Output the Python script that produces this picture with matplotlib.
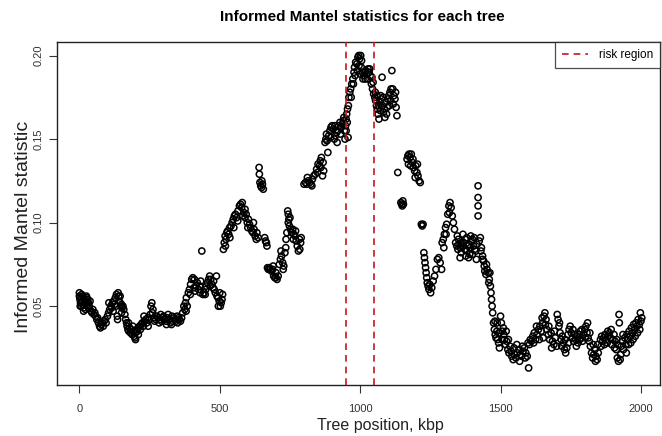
import matplotlib
matplotlib.use("Agg")
import matplotlib.pyplot as plt
import numpy as np

# (tree position in kbp, informed Mantel statistic)
pts_0_250 = [
    (0, 0.056), (0, 0.058), (2, 0.054), (4, 0.052), (6, 0.055), (8, 0.050), (10, 0.053),
    (12, 0.056), (14, 0.051), (16, 0.049), (18, 0.054), (20, 0.052), (22, 0.048), (24, 0.053),
    (26, 0.055), (28, 0.051), (30, 0.054), (32, 0.052), (35, 0.050), (38, 0.053),
    (42, 0.047), (45, 0.046), (48, 0.048), (52, 0.045), (55, 0.046), (58, 0.044), (62, 0.042),
    (65, 0.043), (68, 0.040), (72, 0.038), (75, 0.037), (78, 0.039), (82, 0.040), (85, 0.038),
    (88, 0.041), (92, 0.042), (95, 0.040),
    (100, 0.044), (104, 0.046), (108, 0.048), (112, 0.050), (115, 0.049), (118, 0.052),
    (122, 0.053), (125, 0.051), (128, 0.055), (132, 0.057), (135, 0.044), (136, 0.042),
    (138, 0.058), (140, 0.056), (142, 0.053), (145, 0.052), (148, 0.050), (150, 0.051),
    (152, 0.049), (155, 0.050), (158, 0.048),
    (162, 0.045), (165, 0.042), (168, 0.040), (170, 0.038), (173, 0.036), (176, 0.035),
    (179, 0.037), (182, 0.034), (185, 0.036), (188, 0.033), (192, 0.035), (195, 0.032),
    (198, 0.031), (200, 0.034), (204, 0.036), (207, 0.035), (210, 0.037), (214, 0.038),
    (217, 0.036), (220, 0.039), (224, 0.040), (228, 0.038), (232, 0.041), (236, 0.042),
    (240, 0.040), (244, 0.043), (248, 0.042),
]

pts_250_500 = [
    (252, 0.045), (255, 0.050), (258, 0.052), (262, 0.048), (265, 0.043), (268, 0.041),
    (272, 0.042), (276, 0.044), (280, 0.043), (284, 0.040), (288, 0.042), (292, 0.041),
    (296, 0.043), (300, 0.044), (304, 0.042), (308, 0.041), (312, 0.043), (316, 0.045),
    (320, 0.042), (324, 0.040), (328, 0.039), (332, 0.041), (336, 0.043), (340, 0.042),
    (344, 0.041), (348, 0.044), (352, 0.043), (356, 0.042), (360, 0.041), (364, 0.043),
    (368, 0.046), (372, 0.050), (375, 0.048), (378, 0.052), (381, 0.055), (384, 0.050),
    (388, 0.058), (392, 0.060), (396, 0.063), (400, 0.066), (404, 0.067), (408, 0.061),
    (412, 0.059), (416, 0.062), (420, 0.064), (424, 0.060), (428, 0.062), (432, 0.065),
    (436, 0.083), (440, 0.057), (444, 0.058), (448, 0.057), (452, 0.062), (456, 0.064),
    (460, 0.066), (464, 0.068), (468, 0.066), (472, 0.063), (476, 0.061), (480, 0.060),
    (484, 0.058), (488, 0.068), (490, 0.056), (494, 0.055), (498, 0.053),
]

pts_500_750 = [
    (502, 0.050), (505, 0.052), (508, 0.054), (510, 0.057),
    (513, 0.084), (516, 0.088), (519, 0.092), (522, 0.090), (525, 0.094), (528, 0.095),
    (532, 0.093), (536, 0.091), (540, 0.098), (544, 0.100), (548, 0.102), (552, 0.104),
    (556, 0.105), (560, 0.103), (564, 0.101),
    (570, 0.110), (574, 0.111), (578, 0.109), (582, 0.104), (586, 0.106), (590, 0.103),
    (594, 0.105), (598, 0.100), (602, 0.102), (606, 0.099), (610, 0.097), (614, 0.095),
    (618, 0.094), (622, 0.096), (626, 0.092), (630, 0.090),
    (640, 0.133), (641, 0.129), (643, 0.124), (646, 0.122), (649, 0.121), (652, 0.123),
    (655, 0.120), (660, 0.091), (663, 0.089), (666, 0.088),
    (670, 0.073), (673, 0.072), (676, 0.073), (680, 0.072), (684, 0.071), (688, 0.072),
    (692, 0.068), (696, 0.067), (700, 0.067), (704, 0.066), (708, 0.068), (712, 0.075),
    (716, 0.078), (720, 0.080), (724, 0.076), (728, 0.074), (732, 0.082),
    (736, 0.090), (739, 0.094), (742, 0.107), (744, 0.105), (746, 0.102), (748, 0.098),
]

pts_750_1000 = [
    (752, 0.096), (756, 0.094), (760, 0.096), (764, 0.093), (768, 0.092), (772, 0.089),
    (776, 0.086), (780, 0.083), (784, 0.090), (788, 0.088),
    (800, 0.123), (805, 0.124), (810, 0.123), (815, 0.125), (820, 0.124), (825, 0.123),
    (830, 0.126), (835, 0.128), (840, 0.129), (845, 0.132), (850, 0.135), (855, 0.134),
    (858, 0.137), (862, 0.139), (866, 0.128), (870, 0.131),
    (875, 0.148), (878, 0.150), (882, 0.149), (885, 0.142), (888, 0.152), (892, 0.155),
    (896, 0.157), (900, 0.158), (904, 0.156), (908, 0.150), (912, 0.152), (916, 0.154),
    (920, 0.155), (924, 0.158), (928, 0.160), (932, 0.157), (936, 0.159), (940, 0.161),
    (944, 0.155), (946, 0.150), (948, 0.158), (950, 0.162), (952, 0.165), (955, 0.168),
    (958, 0.170), (960, 0.175), (963, 0.178), (966, 0.180), (970, 0.183), (974, 0.186),
    (978, 0.190), (980, 0.193), (984, 0.196), (988, 0.195), (992, 0.199), (995, 0.200),
    (998, 0.198),
]

pts_1000_1250 = [
    (1000, 0.189), (1002, 0.200), (1005, 0.197), (1008, 0.190), (1012, 0.188), (1016, 0.190),
    (1020, 0.191), (1024, 0.189), (1028, 0.192), (1032, 0.190), (1036, 0.188), (1040, 0.183),
    (1044, 0.180), (1048, 0.177), (1052, 0.175), (1055, 0.173), (1058, 0.170), (1061, 0.168),
    (1064, 0.165), (1067, 0.162), (1070, 0.172), (1073, 0.176), (1076, 0.174), (1078, 0.187),
    (1080, 0.170), (1083, 0.166), (1086, 0.168), (1090, 0.172), (1094, 0.165), (1098, 0.174),
    (1102, 0.176), (1106, 0.178), (1110, 0.180), (1113, 0.191), (1116, 0.180), (1120, 0.176),
    (1124, 0.174), (1128, 0.169), (1131, 0.164),
    (1134, 0.130), (1145, 0.112), (1148, 0.111), (1150, 0.110), (1152, 0.113), (1154, 0.111),
    (1167, 0.138), (1170, 0.140), (1174, 0.141), (1178, 0.139), (1182, 0.141), (1186, 0.136),
    (1190, 0.133), (1194, 0.131), (1198, 0.134), (1202, 0.130), (1206, 0.128), (1210, 0.125),
    (1214, 0.124), (1218, 0.099), (1221, 0.098), (1224, 0.099),
    (1227, 0.082), (1229, 0.079), (1231, 0.076), (1233, 0.073), (1235, 0.070), (1237, 0.067),
    (1239, 0.064), (1242, 0.062), (1245, 0.060), (1248, 0.063),
]

pts_1250_1500 = [
    (1251, 0.058), (1255, 0.061), (1260, 0.065), (1265, 0.068), (1270, 0.072), (1275, 0.078),
    (1280, 0.079), (1285, 0.076), (1290, 0.072), (1292, 0.088), (1296, 0.090), (1300, 0.093),
    (1304, 0.097), (1308, 0.099), (1312, 0.105), (1316, 0.110), (1320, 0.112), (1324, 0.109),
    (1328, 0.104), (1332, 0.100), (1336, 0.096), (1340, 0.088), (1344, 0.086), (1348, 0.084),
    (1350, 0.090), (1352, 0.087), (1356, 0.085), (1360, 0.082), (1360, 0.088), (1364, 0.086),
    (1368, 0.088), (1372, 0.084), (1376, 0.080), (1380, 0.083), (1380, 0.091), (1384, 0.086),
    (1388, 0.087), (1390, 0.081), (1392, 0.085), (1396, 0.089), (1400, 0.090), (1400, 0.081),
    (1404, 0.086), (1408, 0.084), (1412, 0.083), (1416, 0.087),
    (1420, 0.122), (1420, 0.115), (1420, 0.110), (1420, 0.104),
    (1424, 0.089), (1428, 0.091), (1432, 0.085), (1436, 0.080), (1436, 0.078), (1440, 0.077),
    (1444, 0.071), (1448, 0.069), (1452, 0.072), (1456, 0.070), (1460, 0.066), (1464, 0.062),
    (1466, 0.058), (1468, 0.054), (1470, 0.050), (1472, 0.046), (1475, 0.040), (1478, 0.036),
    (1481, 0.033), (1484, 0.031), (1487, 0.035), (1490, 0.030), (1493, 0.028), (1496, 0.025),
]

pts_1500_1750 = [
    (1500, 0.044), (1503, 0.040), (1506, 0.035), (1510, 0.037), (1514, 0.030), (1518, 0.027),
    (1522, 0.029), (1526, 0.024), (1530, 0.022), (1534, 0.026), (1538, 0.023),
    (1540, 0.020), (1545, 0.018), (1550, 0.021), (1555, 0.019), (1560, 0.022), (1565, 0.024),
    (1570, 0.021), (1575, 0.020), (1580, 0.023), (1585, 0.025), (1590, 0.022), (1595, 0.020),
    (1600, 0.013), (1603, 0.027), (1606, 0.030),
    (1610, 0.029), (1615, 0.032), (1620, 0.034), (1625, 0.030), (1630, 0.033), (1635, 0.036),
    (1640, 0.038), (1645, 0.035), (1650, 0.040), (1655, 0.044), (1658, 0.046), (1660, 0.039),
    (1665, 0.036), (1670, 0.033), (1675, 0.030), (1680, 0.034), (1685, 0.029), (1690, 0.027),
    (1695, 0.031), (1700, 0.026), (1702, 0.045), (1705, 0.042), (1708, 0.038), (1712, 0.034),
    (1716, 0.030), (1720, 0.032), (1724, 0.028), (1728, 0.024), (1732, 0.022), (1736, 0.025),
    (1740, 0.033), (1744, 0.036), (1748, 0.038),
]

pts_1750_2000 = [
    (1752, 0.034), (1756, 0.031), (1760, 0.029), (1764, 0.033), (1768, 0.030), (1772, 0.032),
    (1776, 0.028), (1780, 0.033), (1784, 0.035), (1788, 0.031), (1792, 0.029), (1796, 0.033),
    (1800, 0.036), (1804, 0.038), (1808, 0.034), (1812, 0.031), (1816, 0.029),
    (1820, 0.026), (1824, 0.022), (1828, 0.019), (1832, 0.021), (1836, 0.024), (1840, 0.020),
    (1844, 0.018), (1848, 0.022),
    (1856, 0.030), (1860, 0.032), (1864, 0.029), (1868, 0.031), (1872, 0.033), (1876, 0.030),
    (1880, 0.028), (1884, 0.032), (1888, 0.034), (1892, 0.031), (1896, 0.027), (1900, 0.030),
    (1904, 0.033), (1908, 0.029), (1912, 0.024), (1916, 0.019), (1920, 0.017), (1922, 0.045),
    (1923, 0.040), (1926, 0.018),
    (1930, 0.026), (1934, 0.029), (1938, 0.024), (1942, 0.031), (1946, 0.027), (1950, 0.033),
    (1954, 0.030), (1958, 0.035), (1962, 0.032), (1966, 0.037), (1970, 0.034), (1974, 0.039),
    (1978, 0.036), (1982, 0.040), (1986, 0.038), (1990, 0.042), (1994, 0.039), (1998, 0.046),
    (2000, 0.041), (2003, 0.043),
]

# second layer of trees that sit off the main trend (the scatter inside each cluster)
spread_left = [
    (3, 0.050), (8, 0.057), (15, 0.047), (25, 0.056), (33, 0.049),
    (105, 0.052), (120, 0.047), (130, 0.050), (145, 0.056), (150, 0.046),
    (175, 0.040), (190, 0.038), (200, 0.030), (210, 0.033),
    (230, 0.044), (245, 0.038), (260, 0.046), (290, 0.045), (310, 0.039), (330, 0.044), (350, 0.040),
    (380, 0.047), (395, 0.057), (410, 0.066), (430, 0.058), (450, 0.060), (465, 0.062),
    (478, 0.065), (495, 0.050), (500, 0.058),
    (520, 0.086), (535, 0.097), (550, 0.097), (565, 0.107), (580, 0.112), (590, 0.108),
    (600, 0.097), (620, 0.100), (632, 0.094), (637, 0.091),
    (650, 0.125), (668, 0.086), (690, 0.074), (700, 0.070), (718, 0.083), (726, 0.072), (735, 0.085),
    (744, 0.100), (750, 0.103), (762, 0.090), (770, 0.095), (785, 0.084), (790, 0.091),
    (812, 0.127), (828, 0.122), (848, 0.130), (860, 0.133), (868, 0.136),
    (880, 0.153), (895, 0.151), (910, 0.158), (918, 0.148), (930, 0.153), (942, 0.163),
    (950, 0.155), (954, 0.160), (957, 0.151),
    (968, 0.175), (976, 0.183), (982, 0.188), (990, 0.191), (996, 0.194),
]

spread_right = [
    (1004, 0.193), (1010, 0.186), (1018, 0.186), (1026, 0.186), (1034, 0.192), (1042, 0.187),
    (1046, 0.184), (1054, 0.178), (1060, 0.176), (1066, 0.170), (1072, 0.167), (1082, 0.175),
    (1088, 0.163), (1096, 0.169), (1104, 0.170), (1108, 0.173), (1118, 0.171), (1126, 0.178),
    (1172, 0.135), (1180, 0.134), (1188, 0.138), (1196, 0.127), (1204, 0.135),
    (1298, 0.085), (1306, 0.093), (1318, 0.106),
    (1346, 0.092), (1356, 0.079), (1366, 0.093), (1374, 0.090), (1386, 0.079), (1394, 0.092),
    (1406, 0.091), (1414, 0.078),
    (1430, 0.083), (1442, 0.074), (1450, 0.075), (1458, 0.064), (1462, 0.070),
    (1480, 0.041), (1488, 0.040), (1495, 0.034), (1505, 0.030), (1512, 0.033), (1520, 0.035),
    (1528, 0.030),
    (1548, 0.025), (1558, 0.027), (1568, 0.017), (1578, 0.026), (1588, 0.019), (1598, 0.028),
    (1618, 0.028), (1628, 0.038), (1638, 0.030), (1648, 0.043), (1652, 0.031), (1662, 0.042),
    (1672, 0.038), (1682, 0.025), (1692, 0.035),
    (1710, 0.040), (1718, 0.026), (1730, 0.030), (1742, 0.028), (1758, 0.036), (1770, 0.026),
    (1782, 0.030), (1790, 0.036), (1802, 0.031), (1810, 0.040), (1818, 0.034), (1830, 0.027),
    (1838, 0.017), (1846, 0.027),
    (1858, 0.026), (1870, 0.027), (1882, 0.035), (1894, 0.036), (1906, 0.025), (1914, 0.030),
    (1918, 0.027), (1928, 0.021), (1936, 0.033), (1948, 0.022), (1956, 0.027), (1964, 0.028),
    (1972, 0.030), (1980, 0.032), (1988, 0.034), (1996, 0.036),
]

risk_region = [950, 1050]
x_ticks = [0, 500, 1000, 1500, 2000]
y_ticks = [0.05, 0.10, 0.15, 0.20]
y_tick_labels = ["0.05", "0.10", "0.15", "0.20"]

all_pts = (pts_0_250 + pts_250_500 + pts_500_750 + pts_750_1000 +
           pts_1000_1250 + pts_1250_1500 + pts_1500_1750 + pts_1750_2000 +
           spread_left + spread_right)
tree_pos = np.array([p[0] for p in all_pts])
mantel = np.array([p[1] for p in all_pts])

plt.rcParams['font.family'] = ['Liberation Sans', 'DejaVu Sans']

fig = plt.figure(figsize=(6.62, 4.36), dpi=100)
ax = fig.add_axes([0.086, 0.117, 0.911, 0.787])

ax.scatter(tree_pos, mantel, s=20, facecolors='none', edgecolors='black', linewidths=1.1, zorder=2)

for i, pos in enumerate(risk_region):
    ax.axvline(pos, color='#c4161c', linestyle=(0, (4, 3)), linewidth=1.2, zorder=3,
               label='risk region' if i == 0 else None)

ax.set_xlim(-80, 2068)
ax.set_ylim(0.0028, 0.2082)
ax.set_xticks(x_ticks)
ax.set_xticklabels([str(t) for t in x_ticks])
ax.set_yticks(y_ticks)
ax.set_yticklabels(y_tick_labels, rotation=90, va='center')
ax.tick_params(direction='out', length=6, width=0.8, labelsize=8, colors='#333333')
ax.tick_params(axis='x', pad=8)
ax.tick_params(axis='y', pad=3.5)
for s in ax.spines.values():
    s.set_linewidth(1.0)
    s.set_color('#222222')

fig.text(0.548, 0.961, 'Informed Mantel statistics for each tree', ha='center', va='center',
         fontsize=11, fontweight='bold')
fig.text(0.574, 0.025, 'Tree position, kbp', ha='center', va='center', fontsize=11.5, color='#222222')
fig.text(0.036, 0.48, 'Informed Mantel statistic', ha='center', va='center', rotation=90,
         fontsize=14, color='#222222')

leg = ax.legend(loc='upper right', fontsize=8.5, frameon=True, fancybox=False,
                borderaxespad=0, handlelength=2.2, borderpad=0.6, handletextpad=0.9)
leg.get_frame().set_edgecolor('#222222')
leg.get_frame().set_linewidth(0.9)

fig.savefig('out.png', dpi=100)
